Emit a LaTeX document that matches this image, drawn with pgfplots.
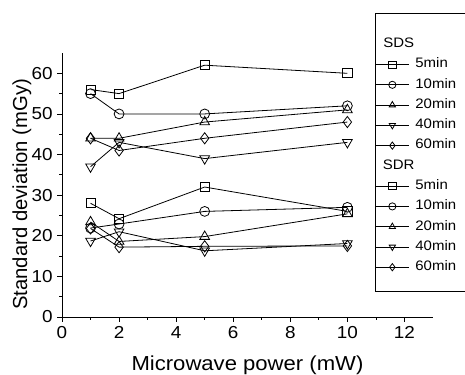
\documentclass[border=0pt]{standalone}
\usepackage{fontspec}
\setmainfont{Liberation Sans}[FakeStretch=1.09]
\newfontfamily\plainfont{Liberation Sans}
\usepackage{pgfplots}
\pgfplotsset{compat=1.18}
\begin{document}
\begin{tikzpicture}
\begin{axis}[
  scale only axis, width=278.25pt, height=198pt,
  xmin=0, xmax=13, ymin=0, ymax=65,
  axis lines=left, axis line style={-, line width=0.7pt},
  tick align=outside, tick style={black, line width=0.6pt},
  major tick length=3.5pt, minor tick length=2pt,
  xtick={0,2,...,12}, ytick={0,10,...,60}, minor tick num=1,
  /pgf/number format/assume math mode=true,
  tick label style={font=\fontsize{13}{15}\selectfont},
  xlabel style={font=\fontsize{15.2}{18}\selectfont, at={(axis description cs:0.5,-0.182)}, anchor=center},
  ylabel style={font=\plainfont\fontsize{15.2}{18}\selectfont, at={(axis description cs:-0.108,0.465)}, anchor=center},
  xlabel={Microwave power (mW)}, ylabel={Standard deviation (mGy)},
  every axis plot/.append style={black, line width=0.6pt, mark options={solid, fill=white, line width=0.6pt}},
  legend style={draw=none, fill=none, at={(0.8437,1.0593)}, anchor=north west, inner sep=0pt,
     font=\fontsize{10.3}{12}\selectfont,
     nodes={inner sep=0pt, text height=7.5pt, text depth=2.5pt},
     row sep=5.2pt, column sep=4.5pt},
  legend cell align=left,
  legend image code/.code={\draw[#1, mark=none] (0pt,0pt) -- (24pt,0pt);
     \draw[#1, mark repeat=2, mark phase=2, mark size=2.7pt] plot coordinates {(0pt,0pt) (12.5pt,0pt) (25pt,0pt)};},
  clip=false,
]
\addlegendimage{empty legend}\addlegendentry{\hspace*{-26pt}SDS}
\addplot[mark=square, mark size=3.4pt] coordinates {(1,56) (2,55) (5,62) (10,60)};
\addlegendentry{5min}
\addplot[mark=o, mark size=3.7pt] coordinates {(1,55) (2,50) (5,50) (10,52)};
\addlegendentry{10min}
\addplot[mark=triangle, mark size=4.2pt] coordinates {(1,44) (2,44) (5,48) (10,51)};
\addlegendentry{20min}
\addplot[mark=triangle, mark options={rotate=180}, mark size=4.2pt] coordinates {(1,37) (2,43) (5,39) (10,43)};
\addlegendentry{40min}
\addplot[mark=diamond, mark size=4.2pt] coordinates {(1,44) (2,41) (5,44) (10,48)};
\addlegendentry{60min}
\addlegendimage{empty legend}\addlegendentry{\hspace*{-26pt}SDR}
\addplot[mark=square, mark size=3.4pt] coordinates {(1,28) (2,24.2) (5,32) (10,26)};
\addlegendentry{5min}
\addplot[mark=o, mark size=3.7pt] coordinates {(1,21.9) (2,22.9) (5,26) (10,27)};
\addlegendentry{10min}
\addplot[mark=triangle, mark size=4.2pt] coordinates {(1,23.4) (2,18.6) (5,19.8) (10,25.4)};
\addlegendentry{20min}
\addplot[mark=triangle, mark options={rotate=180}, mark size=4.2pt] coordinates {(1,18.7) (2,21) (5,16.3) (10,18.1)};
\addlegendentry{40min}
\addplot[mark=diamond, mark size=4.2pt] coordinates {(1,21.8) (2,17.2) (5,17.4) (10,17.5)};
\addlegendentry{60min}
\end{axis}
\draw[line width=0.6pt] (310pt,19.5pt) -- (234.75pt,19.5pt) -- (234.75pt,228pt) -- (310pt,228pt);
\pgfresetboundingbox
\path[use as bounding box] (-46.5pt,-43.5pt) rectangle (302.25pt,237.75pt);
\end{tikzpicture}
\end{document}
